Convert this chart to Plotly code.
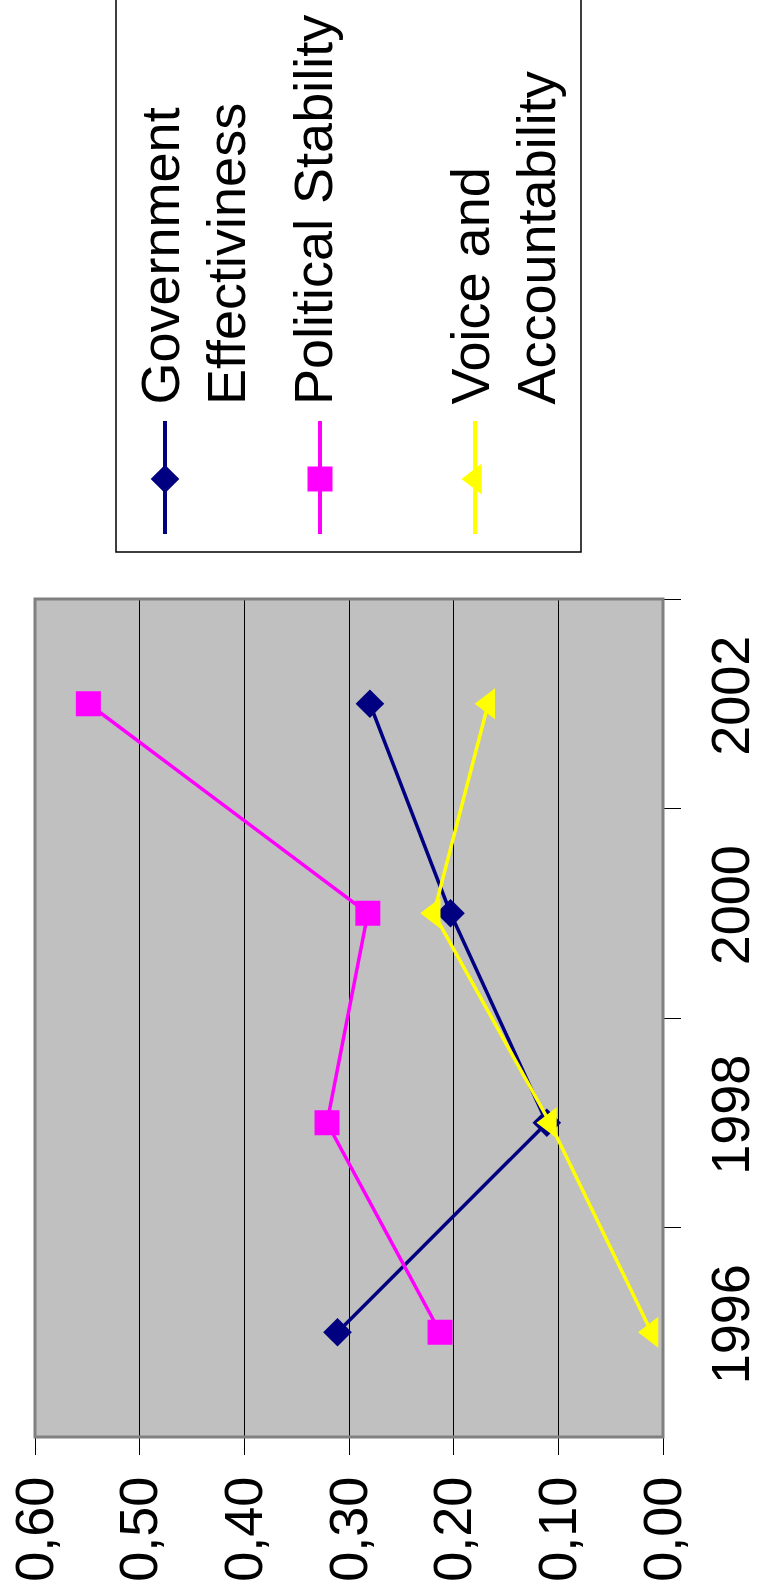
import plotly.graph_objects as go

# ---- data ----
years = ["1996", "1998", "2000", "2002"]
gov_effectiveness = [0.311, 0.111, 0.203, 0.280]
political_stability = [0.213, 0.321, 0.282, 0.549]
voice_accountability = [0.011, 0.108, 0.219, 0.167]

series_names = ["Government Effectiviness", "Political Stability", "Voice and Accountability"]
legend_lines = [["Government", "Effectiviness"], ["Political Stability"], ["Voice and", "Accountability"]]
value_ticks = [0.0, 0.1, 0.2, 0.3, 0.4, 0.5, 0.6]
value_tick_labels = ["0,00", "0,10", "0,20", "0,30", "0,40", "0,50", "0,60"]

# ---- styling ----
W, H = 763, 1594
FONT = "Liberation Sans, Arial, sans-serif"
FS = 54
colors = ["#000080", "#FF00FF", "#FFFF00"]
symbols = ["diamond", "square", "triangle-left"]
sizes = [22, 25, 27]

# plot area in pixels (page is drawn rotated: values run right-to-left along x)
PX_L, PX_R, PX_T, PX_B = 35, 663, 599, 1437

fig = go.Figure()

for name, vals, c, s, sz in zip(series_names,
                                [gov_effectiveness, political_stability, voice_accountability],
                                colors, symbols, sizes):
    fig.add_trace(go.Scatter(
        x=vals, y=years, name=name, mode="lines+markers",
        line=dict(color=c, width=3.5),
        marker=dict(symbol=s, size=sz, color=c, line=dict(width=0)),
        xaxis="x", yaxis="y", showlegend=False,
    ))

# ---- legend drawn on a full-page pixel overlay ----
legend_x = [165, 320, 475]
for c, s, sz, lx in zip(colors, symbols, sizes, legend_x):
    fig.add_trace(go.Scatter(
        x=[lx, lx], y=[421, 534], mode="lines",
        line=dict(color=c, width=4), xaxis="x2", yaxis="y2",
        showlegend=False, hoverinfo="skip",
    ))
    fig.add_trace(go.Scatter(
        x=[lx], y=[479], mode="markers",
        marker=dict(symbol=s, size=sz, color=c, line=dict(width=0)),
        xaxis="x2", yaxis="y2", showlegend=False, hoverinfo="skip",
    ))

legend_text_x = [[159, 226], [313], [469, 535]]
annotations = []
for lines, xs in zip(legend_lines, legend_text_x):
    for txt, tx in zip(lines, xs):
        annotations.append(dict(
            x=tx, y=407, xref="x2", yref="y2", text=txt, showarrow=False,
            textangle=-90, xanchor="center", yanchor="bottom",
            font=dict(family=FONT, size=FS, color="black"),
        ))

shapes = [
    # plot area fill and border
    dict(type="rect", xref="x domain", yref="y domain", x0=0, x1=1, y0=0, y1=1,
         fillcolor="#C0C0C0", line=dict(width=0), layer="below"),
    dict(type="rect", xref="x domain", yref="y domain", x0=0, x1=1, y0=0, y1=1,
         fillcolor="rgba(0,0,0,0)", line=dict(color="#808080", width=3), layer="above"),
    # legend frame
    dict(type="rect", xref="x2", yref="y2", x0=116, x1=581, y0=-2, y1=552,
         fillcolor="rgba(0,0,0,0)", line=dict(color="black", width=1.5)),
]

fig.update_layout(
    template="none",
    width=W, height=H, autosize=False,
    margin=dict(l=0, r=0, t=0, b=0, pad=0),
    paper_bgcolor="white", plot_bgcolor="rgba(0,0,0,0)",
    font=dict(family=FONT, size=FS, color="black"),
    showlegend=False,
    xaxis=dict(
        domain=[PX_L / W, PX_R / W], range=[0.6, 0.0], anchor="y", automargin=False,
        tickmode="array", tickvals=value_ticks, ticktext=value_tick_labels,
        tickangle=-90, ticks="outside", ticklen=17, tickwidth=1, tickcolor="black",
        showline=True, linecolor="black", linewidth=1,
        showgrid=True, gridcolor="black", gridwidth=1, zeroline=False,
        tickfont=dict(family=FONT, size=FS, color="black"),
        fixedrange=True,
    ),
    yaxis=dict(
        domain=[(H - PX_B) / H, (H - PX_T) / H], anchor="x", automargin=False,
        type="category", categoryorder="array", categoryarray=years,
        range=[-0.5, 3.5], side="right", tickangle=-90, ticklabelstandoff=20,
        tickson="boundaries", ticks="outside", ticklen=17, tickwidth=1, tickcolor="black",
        showline=True, linecolor="black", linewidth=1,
        showgrid=False, zeroline=False,
        tickfont=dict(family=FONT, size=FS, color="black"),
        fixedrange=True,
    ),
    xaxis2=dict(domain=[0, 1], range=[0, W], anchor="y2", visible=False,
                automargin=False, fixedrange=True),
    yaxis2=dict(domain=[0, 1], range=[H, 0], anchor="x2", visible=False,
                automargin=False, fixedrange=True),
    shapes=shapes,
    annotations=annotations,
)

fig.write_html("out.html")
